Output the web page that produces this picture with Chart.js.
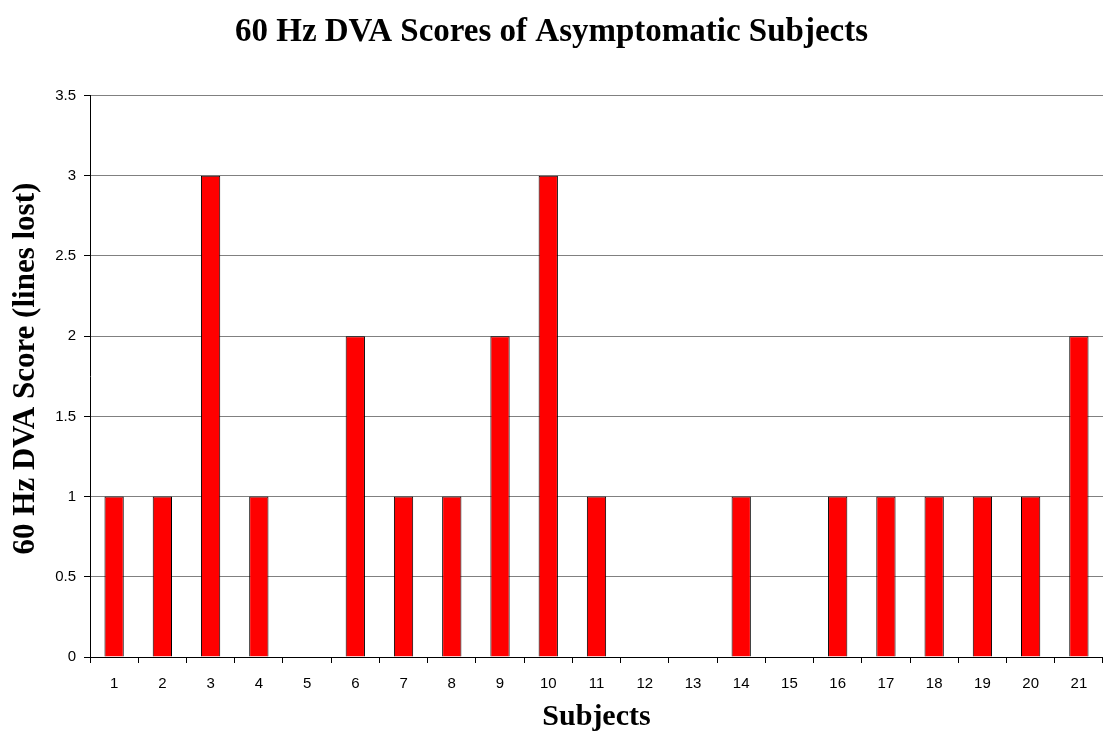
<!DOCTYPE html>
<html>
<head>
<meta charset="utf-8">
<script src="https://cdn.jsdelivr.net/npm/chart.js@4/dist/chart.umd.min.js"></script>
<style>
  html, body { margin: 0; padding: 0; background: #fff; }
  #wrap { width: 1103px; height: 735px; }
</style>
</head>
<body>
<div id="wrap"><canvas id="myChart" width="1103" height="735"></canvas></div>
<script>
// values
var subjects = ['1','2','3','4','5','6','7','8','9','10','11','12','13','14','15','16','17','18','19','20','21'];
var scores = [1, 1, 3, 1, 0, 2, 1, 1, 2, 3, 1, 0, 0, 1, 0, 1, 1, 1, 1, 1, 2];
var yTicks = [0, 0.5, 1, 1.5, 2, 2.5, 3, 3.5];

var serif = '"Liberation Serif", "Times New Roman", serif';
var sans = '"Liberation Sans", Arial, sans-serif';

var ctx = document.getElementById('myChart').getContext('2d');
var chart = new Chart(ctx, {
    type: 'bar',
    data: {
        labels: subjects,
        datasets: [{
            label: '60 Hz DVA Score',
            data: scores,
            backgroundColor: '#ff0000',
            borderColor: '#000000',
            borderWidth: 1,
            barPercentage: 0.4,
            categoryPercentage: 1.0
        }]
    },
    options: {
        responsive: false,
        animation: false,
        devicePixelRatio: 1,
        layout: { padding: 0 },
        plugins: {
            legend: { display: false },
            tooltip: { enabled: false },
            title: {
                display: true,
                text: '60 Hz DVA Scores of Asymptomatic Subjects',
                color: '#000',
                font: { family: serif, size: 33, weight: 'bold' },
                padding: { top: 13, bottom: 43 }
            }
        },
        scales: {
            x: {
                grid: { display: true, drawOnChartArea: false, offset: true, color: '#000', tickLength: 6 },
                border: { color: '#000', width: 1 },
                ticks: { color: '#000', font: { family: sans, size: 15 }, padding: 12, maxRotation: 0 },
                title: {
                    display: true,
                    text: 'Subjects',
                    color: '#000',
                    font: { family: serif, size: 30, weight: 'bold' },
                    padding: { top: 0, bottom: 0 }
                },
                afterFit: function(scale) { scale.height = 78; }
            },
            y: {
                min: 0,
                max: 3.5,
                afterBuildTicks: function(scale) {
                    scale.ticks = yTicks.map(function(v) { return { value: v }; });
                },
                grid: { color: '#808080', tickColor: '#000', tickLength: 6 },
                border: { color: '#000', width: 1 },
                ticks: {
                    color: '#000',
                    font: { family: sans, size: 15 },
                    padding: 8,
                    callback: function(v) { return String(v); }
                },
                title: {
                    display: true,
                    // leading spaces nudge the rotated title up a little
                    text: '\u00a0\u00a060 Hz DVA Score (lines lost)',
                    color: '#000',
                    font: { family: serif, size: 31, weight: 'bold' },
                    padding: { top: 7, bottom: 0 }
                },
                afterFit: function(scale) { scale.width = 90; }
            }
        }
    }
});
</script>
</body>
</html>
